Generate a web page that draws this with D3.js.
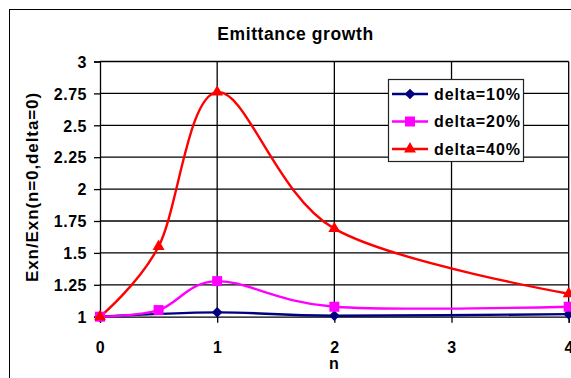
<!DOCTYPE html>
<html>
<head>
<meta charset="utf-8">
<script src="https://cdn.jsdelivr.net/npm/d3@7"></script>
<style>
  html, body { margin: 0; padding: 0; background: #fff; }
  svg { display: block; }
  text { font-family: Arial, "Liberation Sans", sans-serif; font-weight: bold; fill: #000; }
</style>
</head>
<body>
<svg id="chart" width="571" height="378"></svg>
<script>
// Emittance ratio vs n for three delta values
const nValues      = [0, 0.5, 1, 2, 4];
const delta10N     = [0, 1, 2, 4];
const delta10      = [1.0, 1.034, 1.008, 1.02];
const delta20      = [1.0, 1.052, 1.279, 1.078, 1.078];
const delta40      = [1.0, 1.55, 2.76, 1.69, 1.18];
const seriesNames  = ["delta=10%", "delta=20%", "delta=40%"];
const xTicks       = [0, 1, 2, 3, 4];
const yTicks       = [1, 1.25, 1.5, 1.75, 2, 2.25, 2.5, 2.75, 3];
const yTickLabels  = ["1", "1.25", "1.5", "1.75", "2", "2.25", "2.5", "2.75", "3"];

const svg = d3.select("#chart");

// chart frame
svg.append("rect")
  .attr("x", 9.5).attr("y", 9.5)
  .attr("width", 600).attr("height", 400)
  .attr("fill", "#fff").attr("stroke", "#000").attr("stroke-width", 1);

const plot = { left: 100, right: 568.7, top: 61.5, bottom: 316.7 };
const x = d3.scaleLinear().domain([0, 4]).range([plot.left, plot.right]);
const y = d3.scaleLinear().domain([1, 3]).range([plot.bottom, plot.top]);

// gridlines
const grid = svg.append("g");
grid.selectAll("line.h").data(yTicks.slice(1)).join("line")
  .attr("x1", plot.left).attr("x2", plot.right)
  .attr("y1", d => y(d)).attr("y2", d => y(d))
  .attr("stroke", "#000").attr("stroke-width", 1.3);
grid.selectAll("line.v").data(xTicks.slice(1)).join("line")
  .attr("x1", d => x(d)).attr("x2", d => x(d))
  .attr("y1", plot.top).attr("y2", plot.bottom)
  .attr("stroke", "#000").attr("stroke-width", 1.3);

// axes
const yAxis = d3.axisLeft(y).tickValues(yTicks)
  .tickFormat((d, i) => yTickLabels[i]).tickSize(6).tickPadding(7);
const xAxis = d3.axisBottom(x).tickValues(xTicks)
  .tickFormat(d3.format("d")).tickSize(6).tickPadding(18.5);

const gy = svg.append("g").attr("transform", `translate(${plot.left},0)`).call(yAxis);
const gx = svg.append("g").attr("transform", `translate(0,${plot.bottom})`).call(xAxis);
[gy, gx].forEach(g => {
  g.select(".domain").attr("stroke", "#000").attr("stroke-width", 1.3);
  g.selectAll(".tick line").attr("stroke", "#000").attr("stroke-width", 1.3);
  g.selectAll(".tick text")
    .attr("font-family", "Arial, 'Liberation Sans', sans-serif")
    .attr("font-weight", "bold").attr("font-size", 16)
    .attr("letter-spacing", 0.5).attr("fill", "#000");
});
gy.selectAll(".tick text").attr("dy", "0.36em");
gx.selectAll(".tick text").attr("dy", "0.71em");

// series
const line = d3.line().x(d => x(d[0])).y(d => y(d[1])).curve(d3.curveCardinal.tension(0));
const series = [
  { name: seriesNames[0], color: "#000080", marker: "diamond", pts: delta10N.map((n, i) => [n, delta10[i]]) },
  { name: seriesNames[1], color: "#FF00FF", marker: "square",  pts: nValues.map((n, i) => [n, delta20[i]]) },
  { name: seriesNames[2], color: "#FF0000", marker: "triangle", pts: nValues.map((n, i) => [n, delta40[i]]) }
];
const symbolOf = {
  diamond: d3.symbol().type(d3.symbolDiamond2).size(72),
  square: d3.symbol().type(d3.symbolSquare).size(100),
  triangle: d3.symbol().type(d3.symbolTriangle).size(62)
};

series.forEach(s => {
  svg.append("path").datum(s.pts)
    .attr("d", line).attr("fill", "none")
    .attr("stroke", s.color).attr("stroke-width", 2.4);
});
series.forEach(s => {
  svg.append("g").selectAll("path").data(s.pts).join("path")
    .attr("transform", d => `translate(${x(d[0])},${y(d[1])})`)
    .attr("d", symbolOf[s.marker]).attr("fill", s.color);
});

// title and axis labels
svg.append("text").attr("x", 295.5).attr("y", 40).attr("text-anchor", "middle")
  .attr("font-size", 17.5).attr("letter-spacing", 0.6).text("Emittance growth");
svg.append("text").attr("x", 334).attr("y", 369).attr("text-anchor", "middle")
  .attr("font-size", 16).text("n");
svg.append("text").attr("transform", "translate(37.5,187) rotate(-90)")
  .attr("text-anchor", "middle").attr("font-size", 17).attr("letter-spacing", 0.9)
  .text("Exn/Exn(n=0,delta=0)");

// legend
const legend = svg.append("g");
legend.append("rect").attr("x", 388.5).attr("y", 79.5).attr("width", 135).attr("height", 82)
  .attr("fill", "#fff").attr("stroke", "#222").attr("stroke-width", 1.2);
const rowY = [94, 121.5, 149];
series.forEach((s, i) => {
  legend.append("line").attr("x1", 392).attr("x2", 428).attr("y1", rowY[i]).attr("y2", rowY[i])
    .attr("stroke", s.color).attr("stroke-width", 2.4);
  legend.append("path").attr("transform", `translate(410,${rowY[i]})`)
    .attr("d", symbolOf[s.marker]).attr("fill", s.color);
  legend.append("text").attr("x", 434).attr("y", rowY[i]).attr("dy", "0.36em")
    .attr("font-size", 16).attr("letter-spacing", 0.9).text(s.name);
});
</script>
</body>
</html>
